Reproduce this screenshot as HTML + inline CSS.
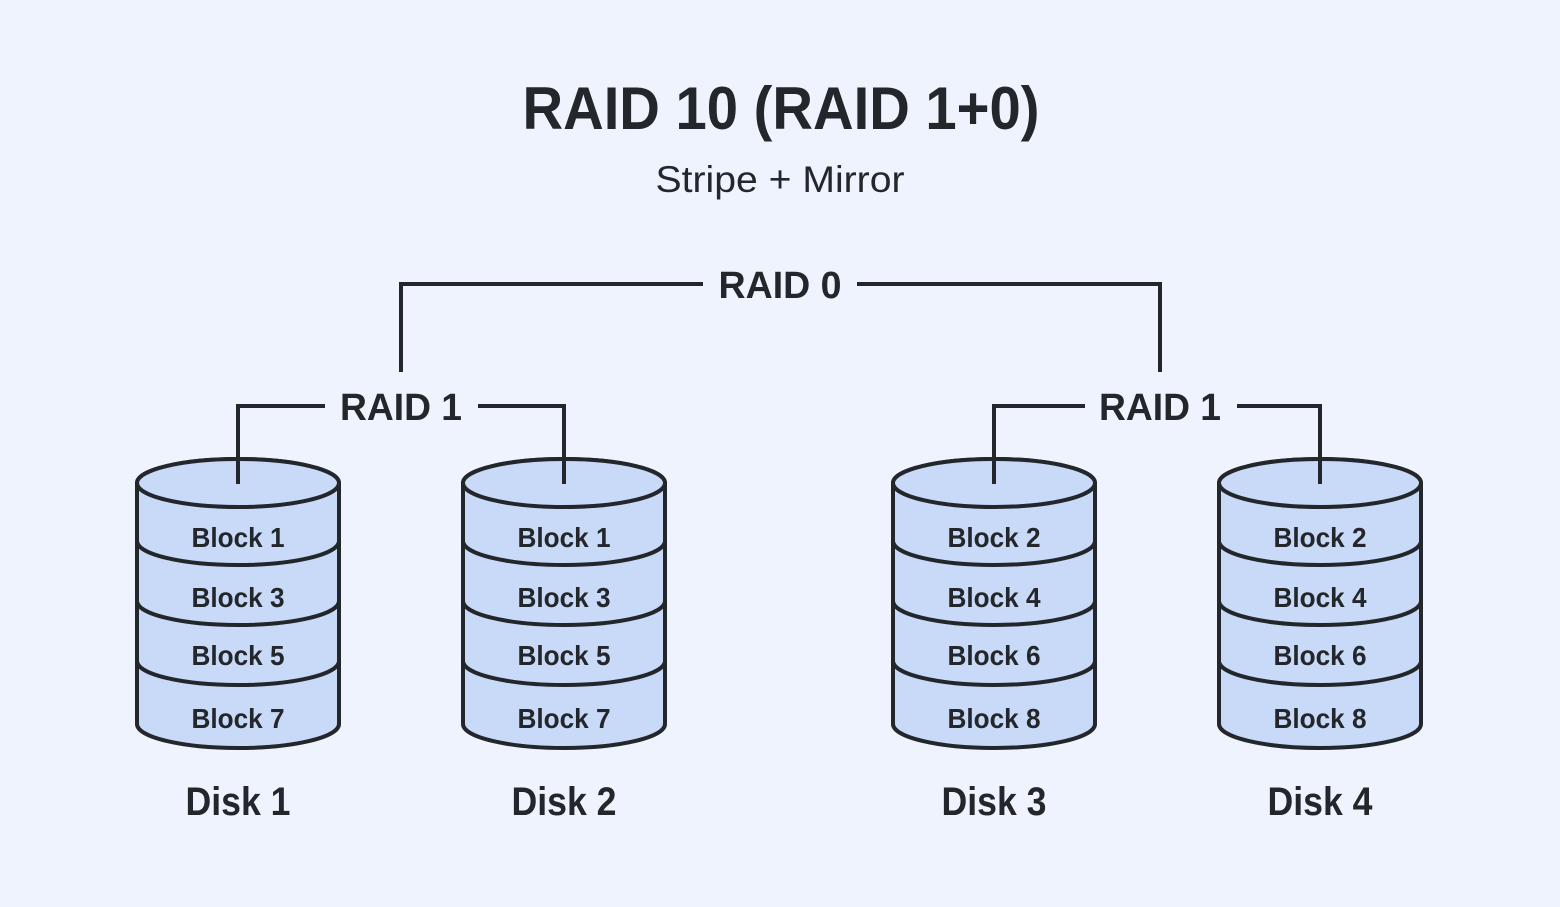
<!DOCTYPE html>
<html><head><meta charset="utf-8"><style>
html,body{margin:0;padding:0;background:#eef3fd;}
svg{display:block;font-family:"Liberation Sans",sans-serif;}
</style></head><body>
<svg width="1560" height="907" viewBox="0 0 1560 907" xmlns="http://www.w3.org/2000/svg">
<rect width="1560" height="907" fill="#eef3fd"/>
<g fill="#23272b" text-anchor="middle">
<text x="781" y="129" font-size="60" font-weight="bold" textLength="517" lengthAdjust="spacingAndGlyphs">RAID 10 (RAID 1+0)</text>
<text x="780" y="192" font-size="37" textLength="249" lengthAdjust="spacingAndGlyphs">Stripe + Mirror</text>
<text x="780" y="298" font-size="38" font-weight="bold" textLength="123" lengthAdjust="spacingAndGlyphs">RAID 0</text>
<text x="401" y="420" font-size="38" font-weight="bold" textLength="122" lengthAdjust="spacingAndGlyphs">RAID 1</text>
<text x="1160" y="420" font-size="38" font-weight="bold" textLength="122" lengthAdjust="spacingAndGlyphs">RAID 1</text>
</g>
<g stroke="#23272b" stroke-width="4" fill="none">
<polyline points="401,372 401,284 703,284"/>
<polyline points="857,284 1160,284 1160,372"/>
<polyline points="238,484 238,406 325,406"/>
<polyline points="478,406 564,406 564,484"/>
<polyline points="994,484 994,406 1085,406"/>
<polyline points="1237,406 1320,406 1320,484"/>
</g>
<defs>
<g id="disk">
<path d="M-101,483 L-101,724 A101,24 0 0 0 101,724 L101,483 A101,24 0 0 0 -101,483 Z" fill="#c8daf7" stroke="#23272b" stroke-width="4"/>
<ellipse cx="0" cy="483" rx="101" ry="24" fill="#c8daf7" stroke="#23272b" stroke-width="4"/>
<path d="M-101,541 A101,24 0 0 0 101,541 M-101,601 A101,24 0 0 0 101,601 M-101,661 A101,24 0 0 0 101,661" fill="none" stroke="#23272b" stroke-width="4"/>
</g>
</defs>
<use href="#disk" x="238"/>
<use href="#disk" x="564"/>
<use href="#disk" x="994"/>
<use href="#disk" x="1320"/>
<g stroke="#23272b" stroke-width="4">
<line x1="238" y1="406" x2="238" y2="484"/>
<line x1="564" y1="406" x2="564" y2="484"/>
<line x1="994" y1="406" x2="994" y2="484"/>
<line x1="1320" y1="406" x2="1320" y2="484"/>
</g>
<g fill="#23272b" text-anchor="middle" font-size="28" font-weight="bold">
<text x="238" y="547" textLength="93" lengthAdjust="spacingAndGlyphs">Block 1</text>
<text x="238" y="607" textLength="93" lengthAdjust="spacingAndGlyphs">Block 3</text>
<text x="238" y="665" textLength="93" lengthAdjust="spacingAndGlyphs">Block 5</text>
<text x="238" y="728" textLength="93" lengthAdjust="spacingAndGlyphs">Block 7</text>
<text x="564" y="547" textLength="93" lengthAdjust="spacingAndGlyphs">Block 1</text>
<text x="564" y="607" textLength="93" lengthAdjust="spacingAndGlyphs">Block 3</text>
<text x="564" y="665" textLength="93" lengthAdjust="spacingAndGlyphs">Block 5</text>
<text x="564" y="728" textLength="93" lengthAdjust="spacingAndGlyphs">Block 7</text>
<text x="994" y="547" textLength="93" lengthAdjust="spacingAndGlyphs">Block 2</text>
<text x="994" y="607" textLength="93" lengthAdjust="spacingAndGlyphs">Block 4</text>
<text x="994" y="665" textLength="93" lengthAdjust="spacingAndGlyphs">Block 6</text>
<text x="994" y="728" textLength="93" lengthAdjust="spacingAndGlyphs">Block 8</text>
<text x="1320" y="547" textLength="93" lengthAdjust="spacingAndGlyphs">Block 2</text>
<text x="1320" y="607" textLength="93" lengthAdjust="spacingAndGlyphs">Block 4</text>
<text x="1320" y="665" textLength="93" lengthAdjust="spacingAndGlyphs">Block 6</text>
<text x="1320" y="728" textLength="93" lengthAdjust="spacingAndGlyphs">Block 8</text>
</g>
<g fill="#23272b" text-anchor="middle" font-size="40" font-weight="bold">
<text x="238" y="815" textLength="105" lengthAdjust="spacingAndGlyphs">Disk 1</text>
<text x="564" y="815" textLength="105" lengthAdjust="spacingAndGlyphs">Disk 2</text>
<text x="994" y="815" textLength="105" lengthAdjust="spacingAndGlyphs">Disk 3</text>
<text x="1320" y="815" textLength="105" lengthAdjust="spacingAndGlyphs">Disk 4</text>
</g>
</svg>
</body></html>
